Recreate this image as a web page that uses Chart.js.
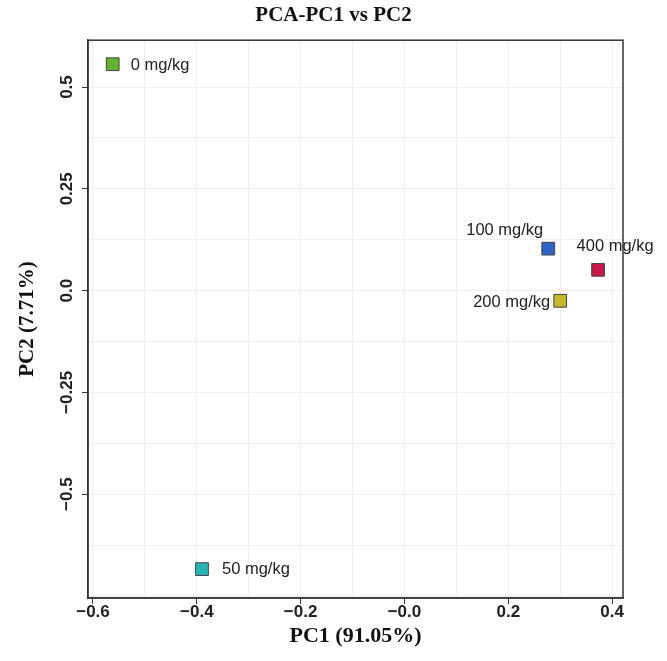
<!DOCTYPE html>
<html>
<head>
<meta charset="utf-8">
<script src="https://cdn.jsdelivr.net/npm/chart.js@4"></script>
<style>
html,body{margin:0;padding:0;background:#fff;}
#wrap{width:667px;height:661px;}
</style>
</head>
<body>
<div id="wrap"><canvas id="c" width="667" height="661"></canvas></div>
<script>
const groups = ["0 mg/kg", "50 mg/kg", "100 mg/kg", "200 mg/kg", "400 mg/kg"];
const pc1 = [-0.562, -0.390, 0.277, 0.300, 0.373];
const pc2 = [0.556, -0.684, 0.103, -0.025, 0.051];
const colors = ["#63b32e", "#2ab5b5", "#2e62c4", "#c6b82c", "#c8184a"];
const xMajorTicks = [-0.6, -0.4, -0.2, 0.0, 0.2, 0.4];
const yMajorTicks = [-0.5, -0.25, 0.0, 0.25, 0.5];
const xTickLabels = ["\u22120.6", "\u22120.4", "\u22120.2", "\u22120.0", "0.2", "0.4"];
const yTickLabels = ["\u22120.5", "\u22120.25", "0.0", "0.25", "0.5"];

// label placement style: [align, dx, dy]
const labelStyle = [
  ["left", 18, 1],
  ["left", 20, 0],
  ["right", -5, -18],
  ["right", -10, 2],
  ["center", 17, -23]
];

function isMajor(v, list){ return list.some(t => Math.abs(t - v) < 1e-6); }
function majorLabel(v, list, labels){
  for (let i=0;i<list.length;i++) if (Math.abs(list[i]-v)<1e-6) return labels[i];
  return '';
}

const labelPlugin = {
  id: 'pointLabels',
  afterDatasetsDraw(chart){
    const ctx = chart.ctx;
    const xs = chart.scales.x, ys = chart.scales.y;
    ctx.save();
    ctx.font = '16.5px "Liberation Sans", Arial, sans-serif';
    ctx.fillStyle = '#222';
    ctx.textBaseline = 'middle';
    for (let i=0;i<groups.length;i++){
      const px = xs.getPixelForValue(pc1[i]);
      const py = ys.getPixelForValue(pc2[i]);
      const s = labelStyle[i];
      ctx.textAlign = s[0];
      ctx.fillText(groups[i], px + s[1], py + s[2]);
    }
    ctx.restore();
  }
};

const boxPlugin = {
  id: 'box',
  afterDraw(chart){
    const a = chart.chartArea, ctx = chart.ctx;
    ctx.save();
    ctx.strokeStyle = '#333';
    ctx.lineWidth = 1.5;
    ctx.strokeRect(a.left, a.top, a.right - a.left, a.bottom - a.top);
    ctx.restore();
  }
};

new Chart(document.getElementById('c'), {
  type: 'scatter',
  data: {
    datasets: groups.map((g, i) => ({
      label: g,
      data: [{x: pc1[i], y: pc2[i]}],
      pointStyle: 'rect',
      pointRadius: 9,
      pointHoverRadius: 9,
      backgroundColor: colors[i],
      borderColor: '#444',
      borderWidth: 1
    }))
  },
  options: {
    responsive: false,
    animation: false,
    layout: { padding: { left: 44, right: 44, top: 0, bottom: 0 } },
    plugins: {
      legend: { display: false },
      tooltip: { enabled: false },
      title: {
        display: true,
        text: 'PCA-PC1 vs PC2',
        font: { family: '"Liberation Serif", "Times New Roman", serif', size: 21, weight: 'bold' },
        color: '#111',
        padding: { top: 3, bottom: 12 }
      }
    },
    scales: {
      x: {
        type: 'linear',
        min: -0.6096, max: 0.421,
        afterBuildTicks(scale){
          const t = [];
          for (let k=-6;k<=4;k++) t.push({value: k/10});
          scale.ticks = t;
        },
        afterFit(scale){ scale.height = 63; },
        grid: {
          color: '#efefef',
          lineWidth: 1,
          drawTicks: true,
          tickLength: 6,
          tickColor: (c) => isMajor(c.tick.value, xMajorTicks) ? '#333' : 'rgba(0,0,0,0)'
        },
        border: { display: true, color: '#333', width: 1.5 },
        ticks: {
          autoSkip: false,
          maxRotation: 0,
          font: { family: '"Liberation Sans", Arial, sans-serif', size: 17, weight: 'bold' },
          color: '#222',
          padding: -2,
          callback: (v) => majorLabel(v, xMajorTicks, xTickLabels)
        },
        title: {
          display: true,
          text: 'PC1 (91.05%)',
          font: { family: '"Liberation Serif", "Times New Roman", serif', size: 22, weight: 'bold' },
          color: '#111',
          padding: { top: 0, bottom: 11 }
        }
      },
      y: {
        type: 'linear',
        min: -0.755, max: 0.615,
        afterBuildTicks(scale){
          const t = [];
          for (let k=-6;k<=4;k++) t.push({value: k*0.125});
          scale.ticks = t;
        },
        afterFit(scale){ scale.width = 44; },
        grid: {
          color: '#efefef',
          lineWidth: 1,
          drawTicks: true,
          tickLength: 6,
          tickColor: (c) => isMajor(c.tick.value, yMajorTicks) ? '#333' : 'rgba(0,0,0,0)'
        },
        border: { display: true, color: '#333', width: 1.5 },
        ticks: {
          autoSkip: false,
          minRotation: 90,
          maxRotation: 90,
          crossAlign: 'center',
          font: { family: '"Liberation Sans", Arial, sans-serif', size: 17, weight: 'bold' },
          color: '#222',
          padding: -6.5,
          callback: (v) => majorLabel(v, yMajorTicks, yTickLabels)
        },
        title: {
          display: true,
          text: 'PC2 (7.71%)',
          font: { family: '"Liberation Serif", "Times New Roman", serif', size: 21, weight: 'bold' },
          color: '#111',
          padding: { top: -28.6, bottom: 0 }
        }
      }
    }
  },
  plugins: [labelPlugin, boxPlugin]
});
</script>
</body>
</html>
